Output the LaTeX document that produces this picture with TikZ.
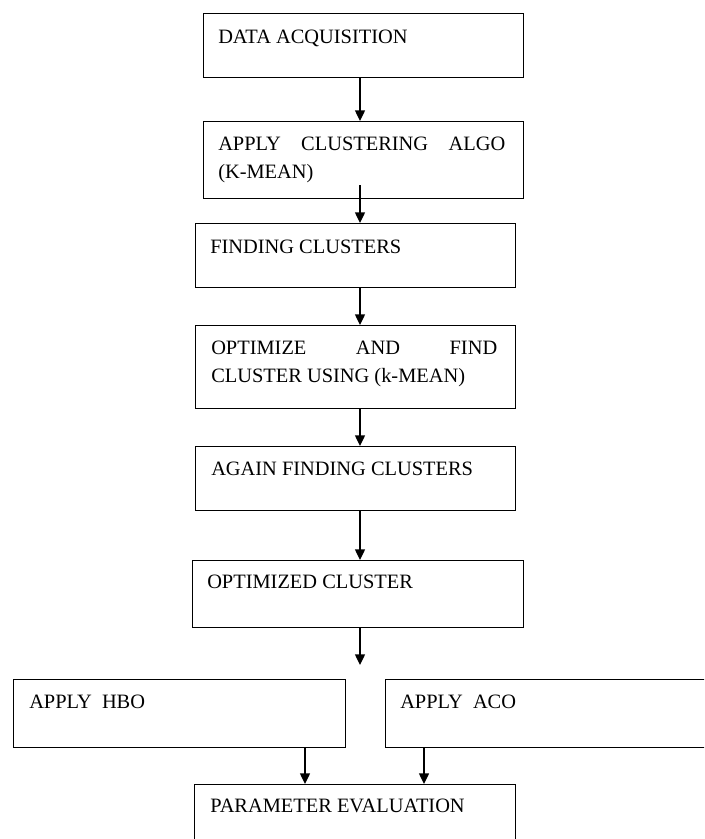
\documentclass[tikz,border=0pt]{standalone}
\usepackage{fontspec}
\setmainfont{Liberation Serif}
\usetikzlibrary{arrows.meta}
\begin{document}
\begin{tikzpicture}[x=0.75pt,y=-0.75pt,
  box/.style={draw, line width=1.1pt, rectangle, inner sep=0pt, anchor=north west},
  txt/.style={anchor=base west, inner sep=0pt, font=\fontsize{15.3pt}{18pt}\selectfont},
  arr/.style={line width=1pt, -{Triangle[width=7.5pt,length=8pt]}}]
\useasboundingbox (0,0) rectangle (704,839);
\clip (0,0) rectangle (704,839);
% boxes
\node[box, minimum width=240pt, minimum height=48pt] (b1) at (203,13) {};
\node[box, minimum width=240pt, minimum height=57.75pt] (b2) at (203,121) {};
\node[box, minimum width=240pt, minimum height=48pt] (b3) at (195,223) {};
\node[box, minimum width=240pt, minimum height=62.25pt] (b4) at (195,325) {};
\node[box, minimum width=240pt, minimum height=48pt] (b5) at (195,446) {};
\node[box, minimum width=248.25pt, minimum height=50.25pt] (b6) at (192,560) {};
\node[box, minimum width=249pt, minimum height=51pt] (b7) at (13,679) {};
\node[box, minimum width=251.25pt, minimum height=51pt] (b8) at (385,679) {};
\node[box, minimum width=240.75pt, minimum height=49.5pt] (b9) at (194,784) {};
% texts
\node[txt] (t1) at (218,43) {DATA ACQUISITION};
\node[txt] (t2a) at (218,150) {\makebox[215.25pt][s]{APPLY\hfill CLUSTERING\hfill ALGO}};
\node[txt] (t2b) at (218,178) {(K-MEAN)};
\node[txt] (t3) at (210,253) {FINDING CLUSTERS};
\node[txt] (t4a) at (211,354) {\makebox[214.5pt][s]{OPTIMIZE\hfill AND\hfill FIND}};
\node[txt] (t4b) at (211,382) {CLUSTER USING (k-MEAN)};
\node[txt] (t5) at (211,475) {AGAIN FINDING CLUSTERS};
\node[txt] (t6) at (207,588) {OPTIMIZED CLUSTER};
\node[txt] (t7) at (29,708) {APPLY\ \ HBO};
\node[txt] (t8) at (400,708) {APPLY\ \ ACO};
\node[txt] (t9) at (210,812) {PARAMETER EVALUATION};
% connectors
\coordinate (ax) at (360,0);
\coordinate (hx) at (305,0);
\coordinate (cx) at (424,0);
\coordinate (a2) at (360,185);
\coordinate (end6) at (360,665);
\draw[arr] (b1.south -| ax) -- (b2.north -| ax);
\draw[arr] (a2) -- (b3.north -| ax);
\draw[arr] (b3.south -| ax) -- (b4.north -| ax);
\draw[arr] (b4.south -| ax) -- (b5.north -| ax);
\draw[arr] (b5.south -| ax) -- (b6.north -| ax);
\draw[arr] (b6.south -| ax) -- (end6);
\draw[arr] (b7.south -| hx) -- (b9.north -| hx);
\draw[arr] (b8.south -| cx) -- (b9.north -| cx);
\end{tikzpicture}
\end{document}
